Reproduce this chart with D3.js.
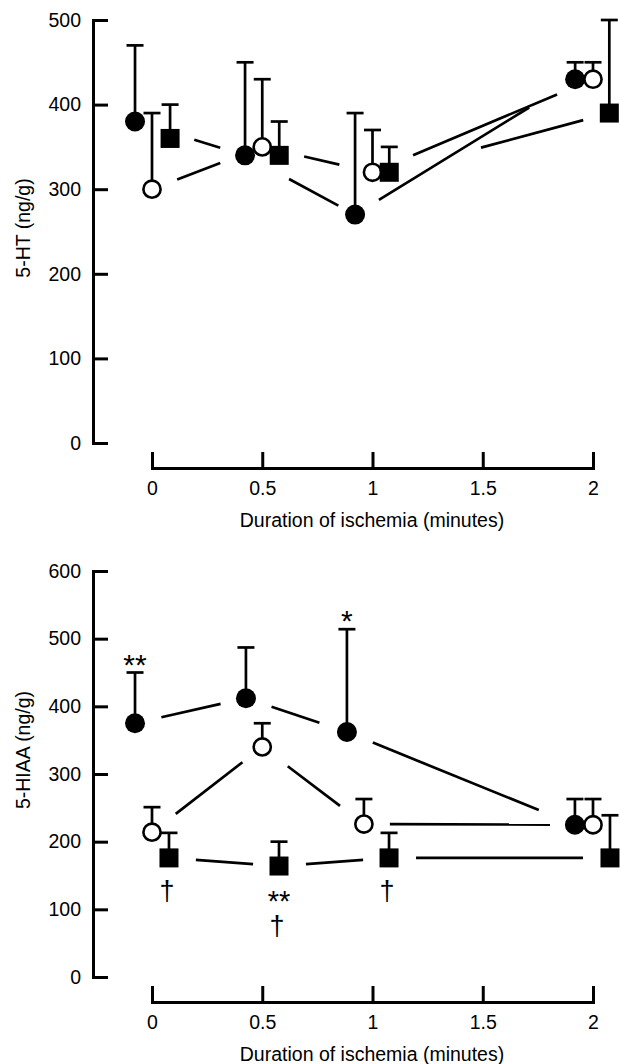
<!DOCTYPE html>
<html>
<head>
<meta charset="utf-8">
<script src="https://cdn.jsdelivr.net/npm/d3@7"></script>
<style>
body { margin: 0; background: #fff; }
</style>
</head>
<body>
<script>
// x axis (minutes)
var xTicks = [0, 0.5, 1, 1.5, 2];
var xLabels = ["0", "0.5", "1", "1.5", "2"];

// 5-HT panel
var htTicks = [0, 100, 200, 300, 400, 500];
var htFilledX = [-0.077, 0.422, 0.921, 1.919];
var htFilledMean = [380, 340, 270, 430];
var htFilledErr = [90, 110, 120, 20];
var htOpenX = [0, 0.5, 1, 2];
var htOpenMean = [300, 350, 320, 430];
var htOpenErr = [90, 80, 50, 20];
var htSquareX = [0.082, 0.577, 1.076, 2.074];
var htSquareMean = [360, 340, 320, 390];
var htSquareErr = [40, 40, 30, 110];

// 5-HIAA panel
var hiaaTicks = [0, 100, 200, 300, 400, 500, 600];
var hiaaFilledX = [-0.077, 0.426, 0.884, 1.918];
var hiaaFilledMean = [375, 412, 362, 225];
var hiaaFilledErr = [75, 75, 152, 38];
var hiaaOpenX = [0, 0.5, 0.961, 2];
var hiaaOpenMean = [214, 340, 226, 225];
var hiaaOpenErr = [37, 35, 37, 38];
var hiaaSquareX = [0.077, 0.576, 1.075, 2.077];
var hiaaSquareMean = [176, 164, 176, 176];
var hiaaSquareErr = [37, 36, 37, 63];

// significance marks
var hiaaFilledMarks = ["**", "", "*", ""];          // above the error bar
var hiaaSquareMarks = [["†"], ["**", "†"], ["†"], []]; // below the marker

// gaps (px) left at both ends of each line piece, null = piece not drawn
var htGaps = {
  filled: [[62, 26], [50, 19], [28, 54]],
  open: [[27, 45], [43, 34], [44, 39]],
  square: [null, null, [95, 27]]
};
var hiaaGaps = {
  filled: [[27, 26], [27, 29], [28, 39]],
  open: [[30, 25], [32, 30], [26, 43]],
  square: [[27, 26], [27, 26], [27, 27]]
};

var font = "'Liberation Sans', Arial, sans-serif";
var fontSize = 19.5;
var ink = "#000";

var svg = d3.select("body").append("svg")
    .attr("width", 620)
    .attr("height", 1064);

var x = d3.scaleLinear().domain([0, 2]).range([152, 593]);

function series(kind, xs, means, errs) {
  return xs.map(function (v, i) {
    return { kind: kind, x: v, y: means[i], e: errs[i], i: i };
  });
}

var panels = [
  {
    label: "5-HT (ng/g)", labelY: 228,
    ticks: htTicks, yMax: 500, yTop: 20, yBottom: 443, xAxisY: 468,
    series: [
      { kind: "filled", pts: series("filled", htFilledX, htFilledMean, htFilledErr), gaps: htGaps.filled },
      { kind: "open", pts: series("open", htOpenX, htOpenMean, htOpenErr), gaps: htGaps.open },
      { kind: "square", pts: series("square", htSquareX, htSquareMean, htSquareErr), gaps: htGaps.square }
    ]
  },
  {
    label: "5-HIAA (ng/g)", labelY: 750,
    ticks: hiaaTicks, yMax: 600, yTop: 571, yBottom: 977, xAxisY: 1002,
    series: [
      { kind: "filled", pts: series("filled", hiaaFilledX, hiaaFilledMean, hiaaFilledErr), gaps: hiaaGaps.filled },
      { kind: "open", pts: series("open", hiaaOpenX, hiaaOpenMean, hiaaOpenErr), gaps: hiaaGaps.open },
      { kind: "square", pts: series("square", hiaaSquareX, hiaaSquareMean, hiaaSquareErr), gaps: hiaaGaps.square }
    ]
  }
];

panels.forEach(function (p, pi) {
  var y = d3.scaleLinear().domain([0, p.yMax]).range([p.yBottom, p.yTop]);
  var g = svg.append("g");

  // y axis, ticks point inwards
  var ya = g.append("g")
      .attr("transform", "translate(93,0)")
      .call(d3.axisLeft(y).tickValues(p.ticks).tickFormat(d3.format("d"))
        .tickSizeInner(-15).tickSizeOuter(-15).tickPadding(12));

  // x axis, ticks point up
  var xa = g.append("g")
      .attr("transform", "translate(0," + p.xAxisY + ")")
      .call(d3.axisBottom(x).tickValues(xTicks).tickFormat(function (d, i) { return xLabels[i]; })
        .tickSizeInner(-16).tickSizeOuter(-16).tickPadding(13));

  [ya, xa].forEach(function (a) {
    a.attr("font-family", font).attr("font-size", fontSize);
    a.selectAll("path, line").attr("stroke", ink).attr("stroke-width", 3);
    a.selectAll("text").attr("fill", ink);
  });

  g.append("text")
      .attr("transform", "translate(23," + p.labelY + ") rotate(-90)")
      .attr("text-anchor", "middle")
      .attr("dominant-baseline", "central")
      .attr("font-family", font).attr("font-size", fontSize)
      .text(p.label);

  g.append("text")
      .attr("x", 372).attr("y", p.xAxisY + 59)
      .attr("text-anchor", "middle")
      .attr("font-family", font).attr("font-size", fontSize)
      .text("Duration of ischemia (minutes)");

  // line pieces between neighbouring points, cut short at both ends
  p.series.forEach(function (s) {
    var pieces = [];
    s.pts.forEach(function (d, i) {
      if (i == 0 || !s.gaps[i - 1]) return;
      var a = s.pts[i - 1], x0 = x(a.x), y0 = y(a.y), x1 = x(d.x), y1 = y(d.y);
      var len = Math.hypot(x1 - x0, y1 - y0), ux = (x1 - x0) / len, uy = (y1 - y0) / len;
      var gp = s.gaps[i - 1];
      pieces.push({ x1: x0 + ux * gp[0], y1: y0 + uy * gp[0], x2: x1 - ux * gp[1], y2: y1 - uy * gp[1] });
    });
    g.selectAll(null).data(pieces).enter().append("line")
        .attr("x1", function (d) { return d.x1; })
        .attr("y1", function (d) { return d.y1; })
        .attr("x2", function (d) { return d.x2; })
        .attr("y2", function (d) { return d.y2; })
        .attr("stroke", ink).attr("stroke-width", 2.7);
  });

  // error bars (upper only)
  p.series.forEach(function (s) {
    var eb = g.selectAll(null).data(s.pts).enter().append("g");
    eb.append("line")
        .attr("x1", function (d) { return x(d.x); }).attr("x2", function (d) { return x(d.x); })
        .attr("y1", function (d) { return y(d.y); }).attr("y2", function (d) { return y(d.y + d.e); })
        .attr("stroke", ink).attr("stroke-width", 2.7);
    eb.append("line")
        .attr("x1", function (d) { return x(d.x) - 8.5; }).attr("x2", function (d) { return x(d.x) + 8.5; })
        .attr("y1", function (d) { return y(d.y + d.e); }).attr("y2", function (d) { return y(d.y + d.e); })
        .attr("stroke", ink).attr("stroke-width", 2.7);
  });

  // markers
  p.series.forEach(function (s) {
    var m = g.selectAll(null).data(s.pts).enter();
    if (s.kind == "square") {
      m.append("rect")
          .attr("x", function (d) { return x(d.x) - 9.5; })
          .attr("y", function (d) { return y(d.y) - 9.5; })
          .attr("width", 19).attr("height", 19)
          .attr("fill", ink);
    } else {
      m.append("circle")
          .attr("cx", function (d) { return x(d.x); })
          .attr("cy", function (d) { return y(d.y); })
          .attr("r", s.kind == "filled" ? 10 : 8.6)
          .attr("fill", s.kind == "filled" ? ink : "#fff")
          .attr("stroke", ink)
          .attr("stroke-width", s.kind == "filled" ? 0 : 2.6);
    }
  });

  // significance marks, only in the 5-HIAA panel
  if (pi == 1) {
    var fs = p.series[0].pts, sq = p.series[2].pts;
    g.selectAll(null).data(fs.filter(function (d) { return hiaaFilledMarks[d.i]; })).enter()
      .append("text")
        .attr("x", function (d) { return x(d.x); })
        .attr("y", function (d) { return y(d.y + d.e) + 2; })
        .attr("text-anchor", "middle")
        .attr("font-family", font).attr("font-size", 30)
        .attr("fill", ink)
        .text(function (d) { return hiaaFilledMarks[d.i]; });

    // stacked marks under the squares: one text per point, one tspan per mark
    var st = g.selectAll(null).data(sq.filter(function (d) { return hiaaSquareMarks[d.i].length; })).enter()
      .append("text")
        .attr("text-anchor", "middle")
        .attr("font-family", font)
        .attr("fill", ink);
    st.selectAll("tspan")
        .data(function (d) { return hiaaSquareMarks[d.i].map(function (t, k) { return { d: d, t: t, k: k }; }); })
        .enter().append("tspan")
        .attr("x", function (b) { return x(b.d.x) + (b.t == "†" ? -2 : 0); })
        .attr("y", function (b) {
          var off = b.t == "†" ? 42 : 45;
          if (b.k > 0) off = 69;
          return y(b.d.y) + off;
        })
        .attr("font-size", function (b) { return b.t == "†" ? 27 : 29; })
        .text(function (b) { return b.t; });
  }
});
</script>
</body>
</html>
